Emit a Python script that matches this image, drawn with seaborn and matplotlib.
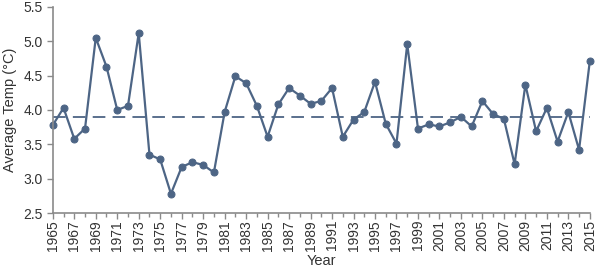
import numpy as np
import pandas as pd
import matplotlib
matplotlib.use("Agg")
import matplotlib.pyplot as plt
import seaborn as sns

years = list(range(1965, 2016))
temps = [3.78, 4.03, 3.58, 3.73, 5.05, 4.63, 4.00, 4.06, 5.12, 3.35,
         3.28, 2.78, 3.17, 3.24, 3.20, 3.09, 3.97, 4.49, 4.39, 4.06,
         3.61, 4.08, 4.32, 4.21, 4.09, 4.13, 4.32, 3.61, 3.86, 3.97,
         4.41, 3.80, 3.51, 4.96, 3.73, 3.79, 3.76, 3.82, 3.90, 3.76,
         4.13, 3.94, 3.87, 3.21, 4.37, 3.69, 4.03, 3.54, 3.97, 3.42,
         4.71]
mean_temp = 3.90

df = pd.DataFrame({"Year": years, "Temp": temps})

sns.set_style("white")
plt.rcParams['font.family'] = ['Liberation Sans', 'DejaVu Sans']

color = "#4d6585"
fig = plt.figure(figsize=(6, 2.77), dpi=100)
ax = fig.add_axes([0.088, 0.231, 0.895, 0.744])

sns.lineplot(data=df, x="Year", y="Temp", ax=ax, color=color, marker="o",
             markersize=5, markeredgecolor=color, linewidth=1.6, clip_on=False)
ax.plot([years[0], years[-1]], [mean_temp, mean_temp], ls=(0, (7, 4)),
        color=color, lw=1.3)

ax.set_xlim(1965, 2015)
ax.set_ylim(2.5, 5.5)
ax.set_yticks(np.arange(2.5, 5.51, 0.5))
ax.set_yticklabels([f"{v:.1f}" for v in np.arange(2.5, 5.51, 0.5)])
ax.set_xticks(years[::2])
ax.set_xticklabels([str(y) for y in years[::2]], rotation=90)
ax.set_xticks(years, minor=True)

for s in ["top", "right"]:
    ax.spines[s].set_visible(False)
for s in ["left", "bottom"]:
    ax.spines[s].set_color("#8a8a8a")
    ax.spines[s].set_linewidth(1.2)
ax.tick_params(axis="both", which="both", direction="out", color="#8a8a8a",
               labelsize=10, labelcolor="#333333")
ax.tick_params(axis="both", which="major", length=4, width=1)
ax.tick_params(axis="x", which="minor", length=3, width=1, bottom=True)
ax.tick_params(axis="x", which="major", pad=1, bottom=True)
ax.tick_params(axis="y", left=True, pad=3)

ax.set_xlabel("Year", fontsize=10.5, color="#333333", labelpad=2)
ax.set_ylabel("Average Temp (°C)", fontsize=10.5, color="#333333", labelpad=5)

fig.savefig("out.png", dpi=100)
